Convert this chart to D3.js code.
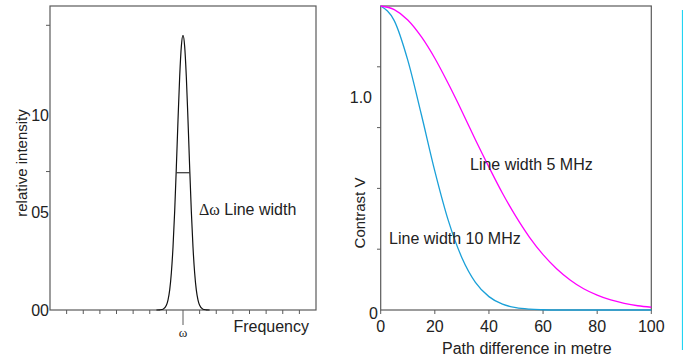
<!DOCTYPE html>
<html>
<head>
<meta charset="utf-8">
<script src="https://cdn.jsdelivr.net/npm/d3@7"></script>
<style>
  body { margin: 0; background: #fff; }
  text { font-family: "Liberation Sans", Arial, sans-serif; fill: #222; }
</style>
</head>
<body>
<svg id="chart" width="683" height="362"></svg>
<script>
// left panel: spectral line (frequency offset in tick units, relative intensity)
const lineOffset = [-1.6, -1.4, -1.2, -1.0, -0.9, -0.8, -0.7, -0.6, -0.5, -0.4, -0.3, -0.2, -0.1, 0,
                    0.1, 0.2, 0.3, 0.4, 0.5, 0.6, 0.7, 0.8, 0.9, 1.0, 1.2, 1.4, 1.6];
const lineIntensity = [0, 0.001, 0.004, 0.024, 0.052, 0.103, 0.191, 0.324, 0.508, 0.733, 0.975, 1.196, 1.352, 1.408,
                       1.352, 1.196, 0.975, 0.733, 0.508, 0.324, 0.191, 0.103, 0.052, 0.024, 0.004, 0.001, 0];
const halfWidth = 0.41;           // half of Δω at half maximum
const halfMax = 0.704;
const leftYLabels = [{ v: 0, t: "00" }, { v: 0.5, t: "05" }, { v: 1.0, t: "10" }];
const leftYMinor = [0.71, 1.46];

// right panel: contrast vs path difference
const pathDiff = [0, 5, 10, 15, 20, 25, 30, 35, 40, 45, 50, 55, 60, 65, 70, 75, 80, 85, 90, 95, 100];
const contrast10 = [1, 0.952, 0.822, 0.644, 0.457, 0.294, 0.172, 0.091, 0.044, 0.019, 0.0075, 0.0027, 0.0009,
                    0, 0, 0, 0, 0, 0, 0, 0];
const contrast5 = [1, 0.988, 0.954, 0.899, 0.828, 0.744, 0.654, 0.560, 0.470, 0.384, 0.307, 0.239, 0.182,
                   0.136, 0.099, 0.070, 0.049, 0.033, 0.022, 0.014, 0.009];
const rightXTicks = [0, 20, 40, 60, 80, 100];
const rightYMinor = [0.2, 0.4, 0.6, 0.8];
const rightYLabels = [{ v: 0, t: "0" }, { v: 0.70, t: "1.0" }];

const svg = d3.select("#chart");
const axisColor = "#5a5a5a";

// ---------- left panel ----------
const xL = d3.scaleLinear().domain([-8, 8]).range([50, 316]);
const yL = d3.scaleLinear().domain([0, 1]).range([310, 115]);
const left = svg.append("g");

left.append("rect")
  .attr("x", 50).attr("y", 6).attr("width", 266).attr("height", 304)
  .attr("fill", "none").attr("stroke", axisColor).attr("stroke-width", 1.2);

left.selectAll(".xt").data(d3.range(-7, 8))
  .enter().append("line")
  .attr("x1", d => xL(d)).attr("x2", d => xL(d))
  .attr("y1", 310).attr("y2", d => d === 0 ? 325 : 314)
  .attr("stroke", axisColor).attr("stroke-width", 1);

left.selectAll(".ym").data(leftYMinor)
  .enter().append("line")
  .attr("x1", 46).attr("x2", 50)
  .attr("y1", d => yL(d)).attr("y2", d => yL(d))
  .attr("stroke", axisColor);

left.selectAll(".yl").data(leftYLabels)
  .enter().append("text")
  .attr("x", 49).attr("y", d => yL(d.v) + 5.5)
  .attr("text-anchor", "end").style("font-size", "16px")
  .text(d => d.t);

const lineL = d3.line()
  .x((d, i) => xL(lineOffset[i]))
  .y(d => yL(d))
  .curve(d3.curveMonotoneX);
left.append("path")
  .attr("d", lineL(lineIntensity))
  .attr("fill", "none").attr("stroke", "#111").attr("stroke-width", 1.2);

left.append("line")
  .attr("x1", xL(-halfWidth)).attr("x2", xL(halfWidth))
  .attr("y1", yL(halfMax)).attr("y2", yL(halfMax))
  .attr("stroke", "#333").attr("stroke-width", 1.2);

const dw = left.append("text")
  .attr("x", xL(0.96)).attr("y", yL(0.487))
  .style("font-size", "16px");
dw.append("tspan").style("font-family", "'Liberation Serif', 'Times New Roman', serif").text("Δω");
dw.append("tspan").text(" Line width");

left.append("text")
  .attr("x", xL(0)).attr("y", 337).attr("text-anchor", "middle")
  .style("font-family", "'Liberation Serif', 'Times New Roman', serif").style("font-size", "13px")
  .text("ω");

left.append("text")
  .attr("x", 309).attr("y", 332).attr("text-anchor", "end")
  .style("font-size", "16px").text("Frequency");

left.append("text")
  .attr("transform", "translate(27,163) rotate(-90)")
  .attr("text-anchor", "middle").style("font-size", "15px")
  .text("relative intensity");

// ---------- right panel ----------
const xR = d3.scaleLinear().domain([0, 100]).range([380.7, 651.3]);
const yR = d3.scaleLinear().domain([0, 1]).range([310, 6]);
const right = svg.append("g");

right.append("rect")
  .attr("x", 380.7).attr("y", 6).attr("width", 270.6).attr("height", 304)
  .attr("fill", "none").attr("stroke", axisColor).attr("stroke-width", 1.2);

right.selectAll(".xt").data(rightXTicks)
  .enter().append("line")
  .attr("x1", d => xR(d)).attr("x2", d => xR(d))
  .attr("y1", 310).attr("y2", 314)
  .attr("stroke", axisColor);

right.selectAll(".xl").data(rightXTicks)
  .enter().append("text")
  .attr("x", d => xR(d)).attr("y", 332)
  .attr("text-anchor", "middle").style("font-size", "16px")
  .text(d => d);

right.selectAll(".ym").data(rightYMinor)
  .enter().append("line")
  .attr("x1", 377).attr("x2", 380.7)
  .attr("y1", d => yR(d)).attr("y2", d => yR(d))
  .attr("stroke", axisColor);

right.selectAll(".yl").data(rightYLabels)
  .enter().append("text")
  .attr("x", d => d.v === 0 ? 378 : 372).attr("y", d => yR(d.v) + (d.v === 0 ? 8.5 : 6))
  .attr("text-anchor", "end").style("font-size", "16px")
  .text(d => d.t);

const lineR = d3.line()
  .x((d, i) => xR(pathDiff[i]))
  .y(d => yR(d))
  .curve(d3.curveMonotoneX);

right.append("path")
  .attr("d", lineR(contrast10))
  .attr("fill", "none").attr("stroke", "#1aa0d8").attr("stroke-width", 1.3);
right.append("path")
  .attr("d", lineR(contrast5))
  .attr("fill", "none").attr("stroke", "#ff00ff").attr("stroke-width", 1.3);

// curve labels with white backing, as in the original
function label(g, x, y, txt) {
  const t = g.append("text").attr("x", x).attr("y", y).style("font-size", "16px").text(txt);
  const b = t.node().getBBox();
  g.insert("rect", "text")
    .attr("x", b.x - 2).attr("y", b.y).attr("width", b.width + 4).attr("height", b.height)
    .attr("fill", "#fff");
}
label(right, xR(33), yR(0.46), "Line width 5 MHz");
label(right, xR(3.1), yR(0.217), "Line width 10 MHz");

right.append("text")
  .attr("x", xR(54)).attr("y", 354).attr("text-anchor", "middle")
  .style("font-size", "16px").text("Path difference in metre");

right.append("text")
  .attr("transform", "translate(365,213) rotate(-90)")
  .attr("text-anchor", "middle").style("font-size", "15px")
  .text("Contrast V");

// cyan separator on the far right
svg.append("line")
  .attr("x1", 682.5).attr("x2", 682.5).attr("y1", 10).attr("y2", 350)
  .attr("stroke", "#22d4f2").attr("stroke-width", 1.2);
</script>
</body>
</html>
